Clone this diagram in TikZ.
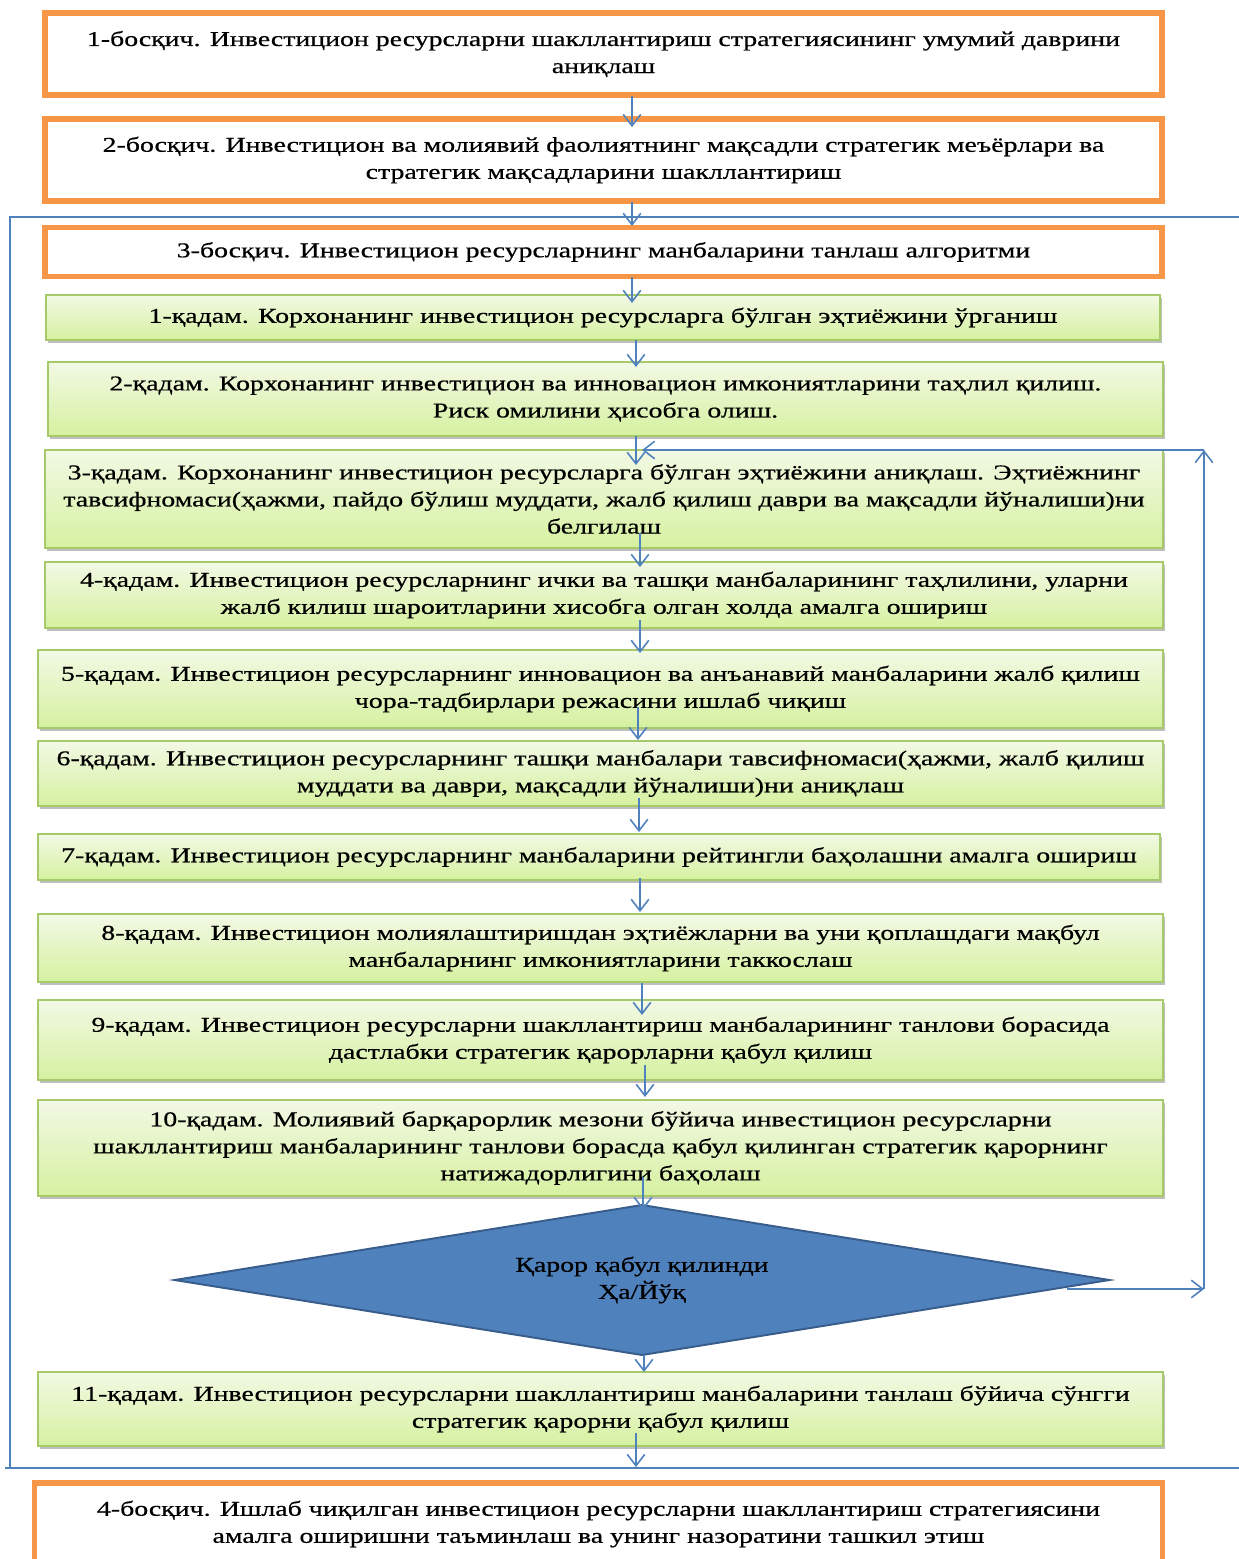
\documentclass[tikz,border=0pt]{standalone}
\usepackage{fontspec}
\setmainfont{Liberation Serif}[FakeStretch=1.32,FakeBold=0.6]
\usetikzlibrary{arrows.meta,shapes.geometric,shadows}
\definecolor{stageline}{HTML}{F79646}
\definecolor{flowblue}{HTML}{4F81BD}
\definecolor{diaedge}{HTML}{385D8A}
\definecolor{steptop}{RGB}{242,249,229}
\definecolor{stepbot}{RGB}{214,241,160}
\definecolor{stepline}{RGB}{166,201,106}
\begin{document}
\begin{tikzpicture}[x=0.02cm,y=-0.02cm,
  txt/.style={font=\fontsize{12}{15.4}\selectfont,align=center,inner sep=0pt,outer sep=0pt},
  stage/.style={txt,draw=stageline,line width=3pt,fill=white},
  stepbox/.style={txt,draw=stepline,line width=0.8pt,top color=steptop,bottom color=stepbot,
    drop shadow={shadow xshift=1.2pt,shadow yshift=-1.6pt,opacity=.45,fill=black!55}},
  arr/.style={draw=flowblue,line width=0.9pt,-{Straight Barb[length=6.5pt,width=10pt]}},
  frame/.style={draw=flowblue,line width=0.8pt}]
\path[use as bounding box,fill=white] (0,0) rectangle (1239,1559);
\clip (0,0) rectangle (1239,1559);

\draw[frame] (1239,217) -- (10,217) -- (10,1468);
\draw[frame] (5,1468) -- (1239,1468);

\node[stage,minimum width=22.34cm,minimum height=1.64cm] (b1) at (603.5,54)
  {1-босқич. Инвестицион ресурсларни шакллантириш стратегиясининг умумий даврини\\аниқлаш};
\node[stage,minimum width=22.34cm,minimum height=1.64cm] (b2) at (603.5,160)
  {2-босқич. Инвестицион ва молиявий фаолиятнинг мақсадли стратегик меъёрлари ва\\стратегик мақсадларини шакллантириш};
\node[stage,minimum width=22.34cm,minimum height=0.98cm] (b3) at (603.5,252)
  {3-босқич. Инвестицион ресурсларнинг манбаларини танлаш алгоритми};

\node[stepbox,minimum width=22.28cm,minimum height=0.9cm] (s1) at (603,317.5)
  {1-қадам. Корхонанинг инвестицион ресурсларга бўлган эҳтиёжини ўрганиш};
\node[stepbox,minimum width=22.3cm,minimum height=1.48cm] (s2) at (605.5,399)
  {2-қадам. Корхонанинг инвестицион ва инновацион имкониятларини таҳлил қилиш.\\Риск омилини ҳисобга олиш.};
\node[stepbox,minimum width=22.36cm,minimum height=1.96cm] (s3) at (604,499)
  {3-қадам. Корхонанинг инвестицион ресурсларга бўлган эҳтиёжини аниқлаш. Эҳтиёжнинг\\тавсифномаси(ҳажми, пайдо бўлиш муддати, жалб қилиш даври ва мақсадли йўналиши)ни\\белгилаш};
\node[stepbox,minimum width=22.36cm,minimum height=1.32cm] (s4) at (604,595)
  {4-қадам. Инвестицион ресурсларнинг ички ва ташқи манбаларининг таҳлилини, уларни\\жалб килиш шароитларини хисобга олган холда амалга ошириш};
\node[stepbox,minimum width=22.5cm,minimum height=1.56cm] (s5) at (600.5,689)
  {5-қадам. Инвестицион ресурсларнинг инновацион ва анъанавий манбаларини жалб қилиш\\чора-тадбирлари режасини ишлаб чиқиш};
\node[stepbox,minimum width=22.5cm,minimum height=1.3cm] (s6) at (600.5,773.5)
  {6-қадам. Инвестицион ресурсларнинг ташқи манбалари тавсифномаси(ҳажми, жалб қилиш\\муддати ва даври, мақсадли йўналиши)ни аниқлаш};
\node[stepbox,minimum width=22.44cm,minimum height=0.92cm] (s7) at (599,857)
  {7-қадам. Инвестицион ресурсларнинг манбаларини рейтингли баҳолашни амалга ошириш};
\node[stepbox,minimum width=22.5cm,minimum height=1.36cm] (s8) at (600.5,948)
  {8-қадам. Инвестицион молиялаштиришдан эҳтиёжларни ва уни қоплашдаги мақбул\\манбаларнинг имкониятларини таккослаш};
\node[stepbox,minimum width=22.5cm,minimum height=1.6cm] (s9) at (600.5,1040)
  {9-қадам. Инвестицион ресурсларни шакллантириш манбаларининг танлови борасида\\дастлабки стратегик қарорларни қабул қилиш};
\node[stepbox,minimum width=22.5cm,minimum height=1.92cm] (s10) at (600.5,1148)
  {10-қадам. Молиявий барқарорлик мезони бўйича инвестицион ресурсларни\\шакллантириш манбаларининг танлови борасда қабул қилинган стратегик қарорнинг\\натижадорлигини баҳолаш};
\node[txt,diamond,draw=diaedge,fill=flowblue,line width=1.1pt,shape aspect=6.2,
  minimum width=18.7cm,minimum height=3cm] (dia) at (642,1280)
  {Қарор қабул қилинди\\Ҳа/Йўқ};
\node[stepbox,minimum width=22.5cm,minimum height=1.48cm] (s11) at (600.5,1409)
  {11-қадам. Инвестицион ресурсларни шакллантириш манбаларини танлаш бўйича сўнгги\\стратегик қарорни қабул қилиш};
\node[stage,minimum width=22.56cm,minimum height=1.64cm] (b4) at (598.5,1524)
  {4-босқич. Ишлаб чиқилган инвестицион ресурсларни шакллантириш стратегиясини\\амалга оширишни таъминлаш ва унинг назоратини ташкил этиш};

\foreach \a/\b/\sa/\sb in {b1/b2/{28.5,1}/{28.5,8},b2/b3/{28.5,1}/{28.5,-1.5},
  b3/s1/{28.5,0.5}/{29,8},s1/s2/{33,0}/{30.5,5},s2/s3/{30.5,0}/{32,15},
  s3/s4/{36,-15}/{36,5},s4/s5/{36,-8}/{39.5,3},s5/s6/{37.5,-21}/{37.5,-1},
  s6/s7/{38.5,-8}/{40,-2},s7/s8/{41,-2}/{39.5,-2},s8/s9/{41.5,1}/{41.5,15},
  s9/s10/{44.5,-15}/{44.5,-3},s10/dia/{42.5,-19}/{1,5},dia/s11/{2,0}/{43.5,0},
  s11/b4/{35.5,-13}/{37.5,-16}}
  \draw[arr] ([shift={(\sa)}]\a.south) -- ([shift={(\sb)}]\b.north);

\coordinate (fbR) at (1204,1289);
\coordinate (fbT) at (1204,450);
\draw[arr] ([shift={(-42.5,9)}]dia.east) -- (fbR);
\draw[arr] (fbR) -- (fbT);
\draw[arr] (fbT) -- ([shift={(38,0)}]s3.north);
\end{tikzpicture}
\end{document}
